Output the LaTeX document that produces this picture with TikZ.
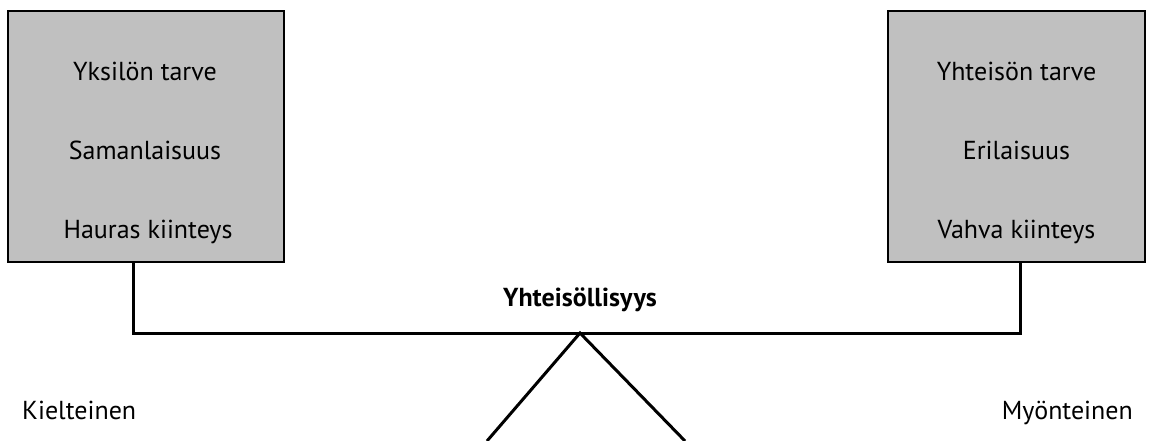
\documentclass[tikz,border=0pt]{standalone}
\usepackage{fontspec}
\setmainfont{PT Sans}
\begin{document}
\begin{tikzpicture}[x=1pt,y=-1pt,
  box/.style={draw=black,line width=2.5pt,fill=boxgray,minimum width=257pt,minimum height=251pt,inner sep=0pt},
  lbl/.style={font=\fontsize{26}{30}\selectfont,inner sep=0pt,anchor=base},
  bar/.style={line width=3pt,line cap=rect}]
\definecolor{boxgray}{RGB}{192,192,192}
\useasboundingbox (0,0) rectangle (1154,441);
\node[box,minimum width=276pt] (L) at (146,136.5) {};
\node[box] (R) at (1016.5,136.5) {};
\node[lbl] (l1) at (145,81) {Yksilön tarve};
\node[lbl] (l2) at (145,160) {Samanlaisuus};
\node[lbl] (l3) at (148,238) {Hauras kiinteys};
\node[lbl] (r1) at (1016.5,81) {Yhteisön tarve};
\node[lbl] (r2) at (1016.5,160) {Erilaisuus};
\node[lbl] (r3) at (1016.5,238) {Vahva kiinteys};
\node[lbl,font=\bfseries\fontsize{26}{30}\selectfont] (t) at (580,306) {Yhteisöllisyys};
\node[lbl,anchor=base west] (k) at (22,419) {Kielteinen};
\node[lbl,anchor=base east] (m) at (1133,419) {Myönteinen};
\coordinate (lb) at (133,333);
\coordinate (rb) at (1020,333);
\coordinate (apex) at (580,333);
\coordinate (fl) at (487,441);
\coordinate (fr) at (685,441);
\draw[bar] (L.south -| lb) -- (lb) -- (rb) -- (R.south -| rb);
\draw[line width=3pt] (fl) -- (apex) -- (fr);
\end{tikzpicture}
\end{document}
